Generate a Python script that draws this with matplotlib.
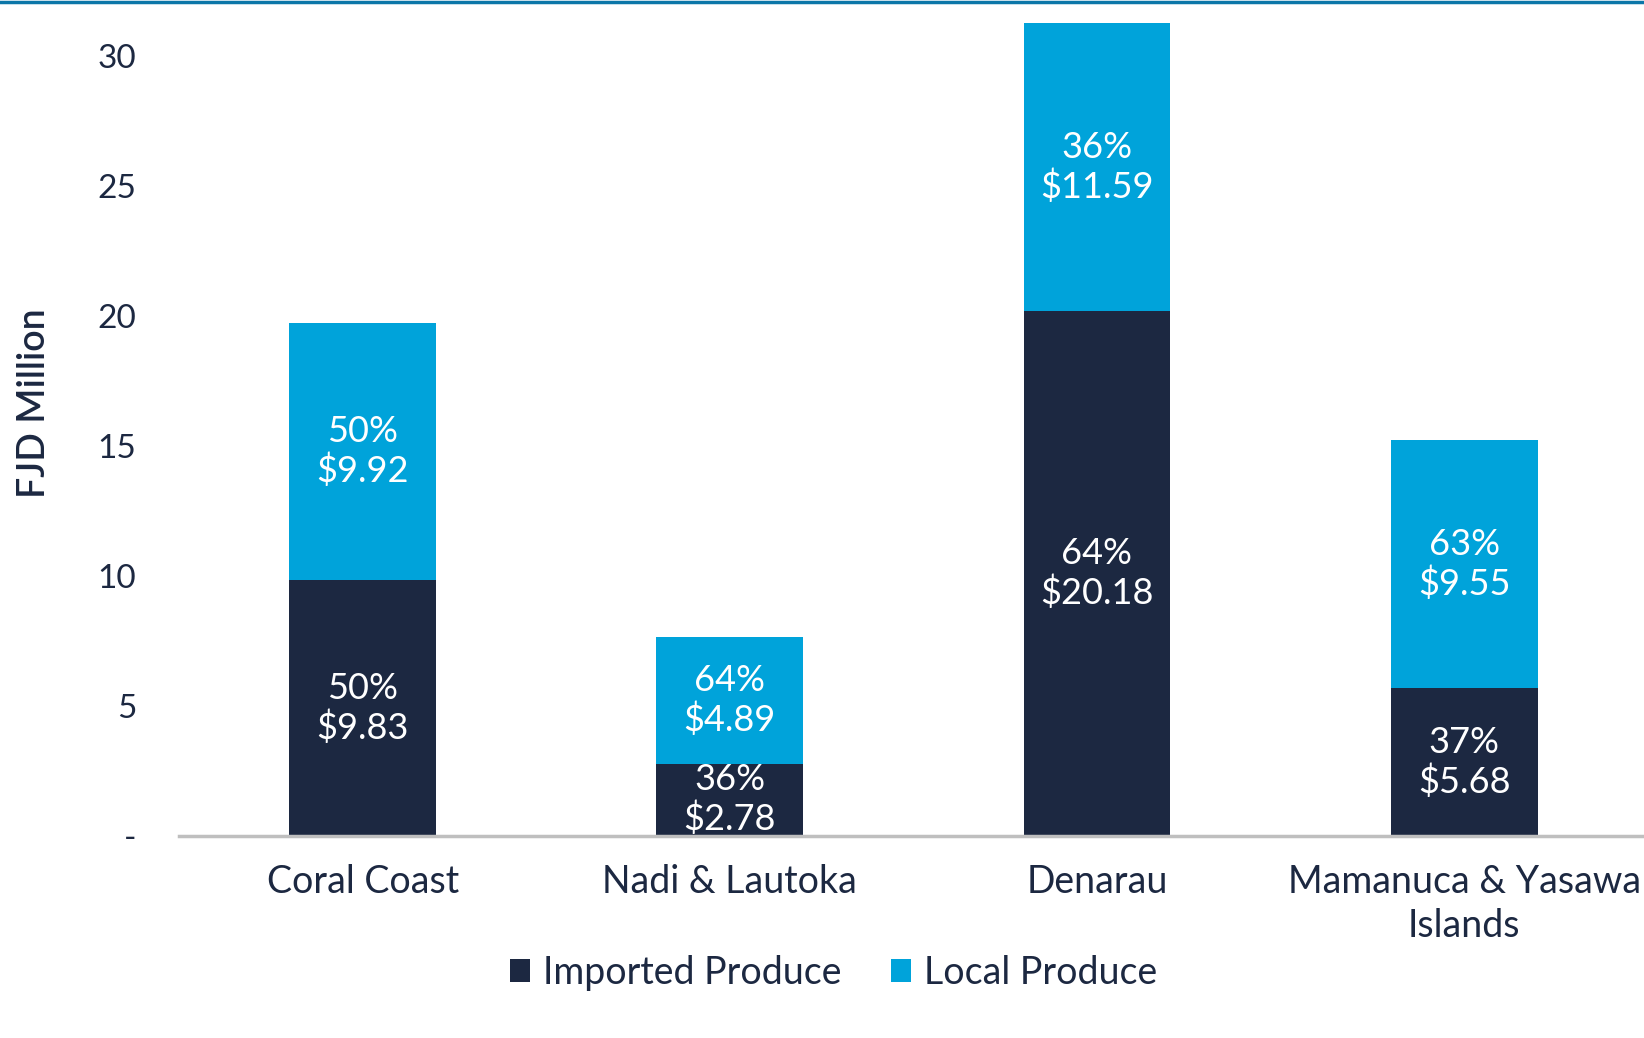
import numpy as np
import matplotlib
matplotlib.use('Agg')
import matplotlib.pyplot as plt
from matplotlib.lines import Line2D

plt.rcParams['font.family'] = ['Lato', 'DejaVu Sans']

regions = ['Coral Coast', 'Nadi & Lautoka', 'Denarau', 'Mamanuca & Yasawa\nIslands']
imported = [9.83, 2.78, 20.18, 5.68]
local = [9.92, 4.89, 11.59, 9.55]
imported_pct = ['50%', '36%', '64%', '37%']
local_pct = ['50%', '64%', '36%', '63%']
yticks = [0, 5, 10, 15, 20, 25, 30]
ytick_labels = ['-', '5', '10', '15', '20', '25', '30']

navy = '#1c2841'
blue = '#00a3da'

fig = plt.figure(figsize=(16.44, 10.38), dpi=100)
ax = fig.add_axes([0.109, 0.1946, 0.891, 0.7832])

x = np.arange(len(regions))
w = 0.4
ax.bar(x, imported, w, color=navy, label='Imported Produce')
ax.bar(x, local, w, bottom=imported, color=blue, label='Local Produce')

ymax = 31.27
ax.set_ylim(0, ymax)
ax.set_xlim(-0.5, 3.49)

# labels inside the bars
for i in range(len(x)):
    yi = imported[i] / 2
    ax.text(x[i], yi, imported_pct[i] + '\n$' + '%.2f' % imported[i], ha='center', va='center',
            color='white', fontsize=26, linespacing=1.2)
    top = min(imported[i] + local[i], ymax)
    yl = (imported[i] + top) / 2
    ax.text(x[i], yl, local_pct[i] + '\n$' + '%.2f' % local[i], ha='center', va='center',
            color='white', fontsize=26, linespacing=1.2)

ax.set_yticks(yticks)
ax.set_yticklabels(ytick_labels)
ax.set_xticks(x)
ax.set_xticklabels(regions, linespacing=1.3)
ax.tick_params(axis='y', length=0, pad=31, labelsize=24, labelcolor=navy)
ax.tick_params(axis='x', length=0, pad=20, labelsize=27, labelcolor=navy)
ax.set_ylabel('FJD Million', fontsize=27, color=navy, fontweight='semibold')
ax.yaxis.set_label_coords(-0.087, 0.533)

for s in ['top', 'right', 'left']:
    ax.spines[s].set_visible(False)
ax.spines['bottom'].set_color('#bfbfbf')
ax.spines['bottom'].set_linewidth(2.5)

leg = fig.legend(loc='center', bbox_to_anchor=(0.507, 0.063), ncol=2, frameon=False,
                 fontsize=27, handlelength=0.55, handleheight=0.55, handletextpad=0.35,
                 columnspacing=1.3)
for t in leg.get_texts():
    t.set_color(navy)

# blue rule along the top edge
fig.add_artist(Line2D([0, 1], [0.9985, 0.9985], transform=fig.transFigure,
                      color='#0b76a8', linewidth=2.5))

fig.savefig('out.png', dpi=100)
